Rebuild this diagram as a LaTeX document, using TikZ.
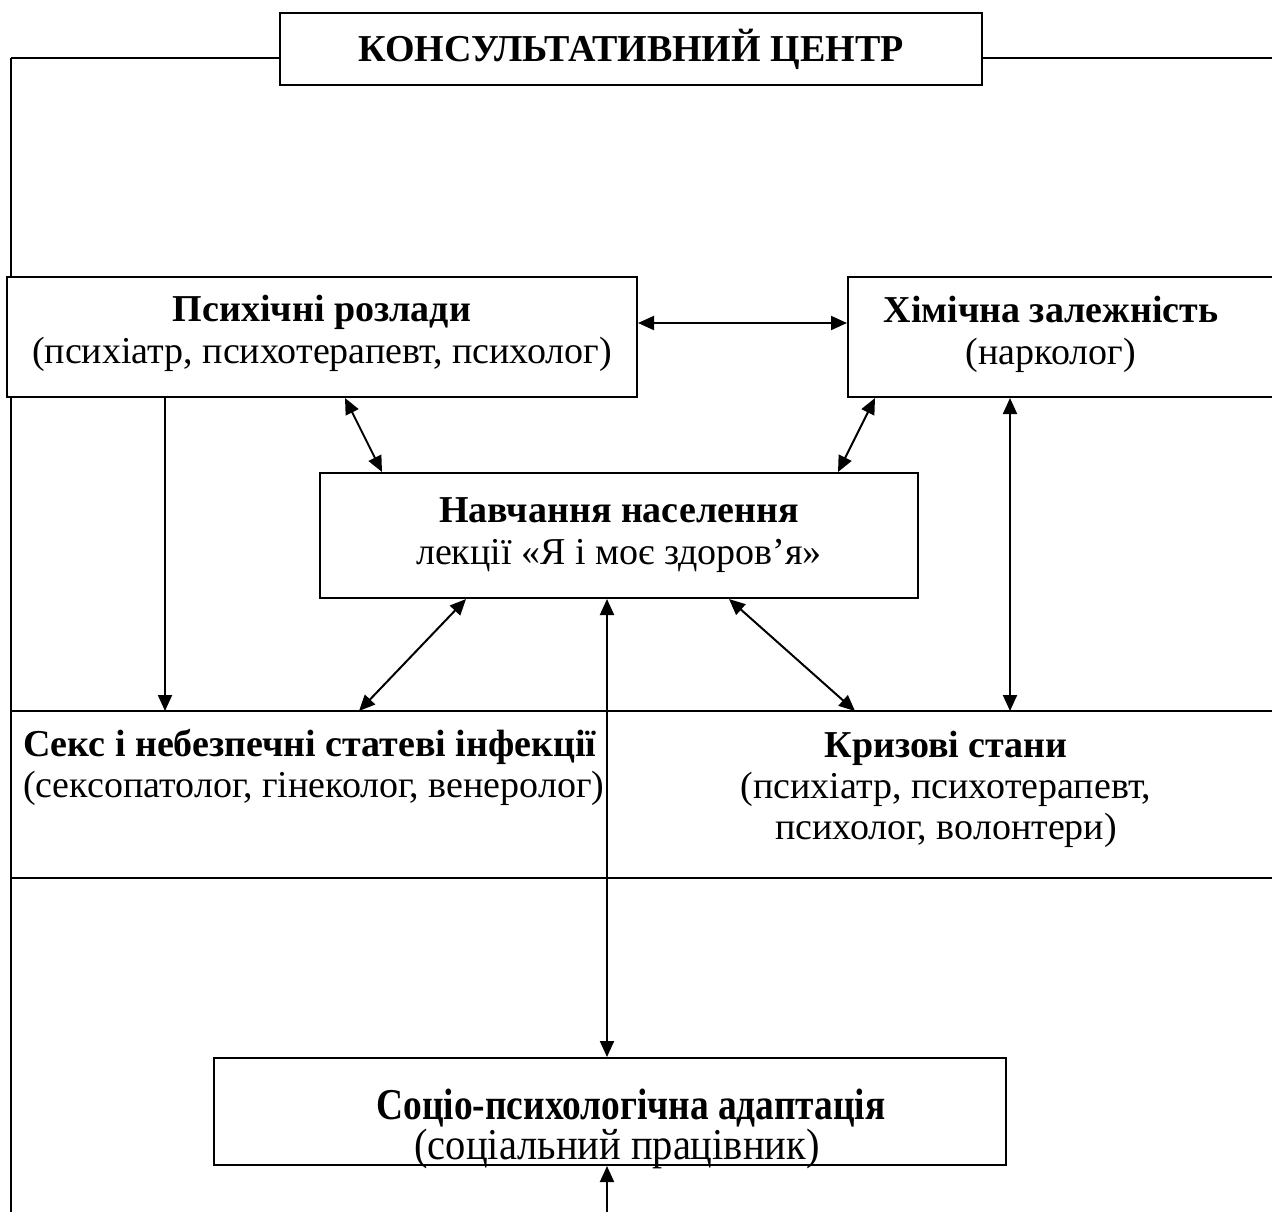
\documentclass[tikz,border=0pt]{standalone}
\usepackage{fontspec}
\setmainfont{Liberation Serif}
\newfontfamily\condfont{Liberation Serif}[FakeStretch=0.85]
\newfontfamily\semicondfont{Liberation Serif}[FakeStretch=0.92]
\usetikzlibrary{arrows.meta}
\begin{document}
\begin{tikzpicture}[x=0.5pt,y=-0.5pt, line width=1pt,
  box/.style={draw, fill=white, line width=1pt, inner sep=0pt, align=center,
              font=\fontsize{19}{21}\selectfont},
  txt/.style={inner sep=0pt, font=\fontsize{19}{20.5}\selectfont},
  arr/.style={-{Triangle[length=8pt,width=7pt]}},
  darr/.style={{Triangle[length=8pt,width=7pt]}-{Triangle[length=8pt,width=7pt]}}]
\useasboundingbox (0,0) rectangle (1272,1212);
\fill[white] (0,0) rectangle (1272,1212);

% frame lines
\coordinate (tl) at (11,58);
\coordinate (bl) at (11,1212);
\coordinate (tr) at (1290,58);
\coordinate (bandL1) at (11,711);
\coordinate (bandR1) at (1290,711);
\coordinate (bandL2) at (11,878);
\coordinate (bandR2) at (1290,878);
\draw (tl) -- (bl);
\draw (bandL1) -- (bandR1);
\draw (bandL2) -- (bandR2);

% title
\node[box, minimum width=351pt, minimum height=36pt, font=\fontsize{19}{22}\selectfont\bfseries]
  (title) at (631,49) {КОНСУЛЬТАТИВНИЙ ЦЕНТР};
\draw (title.west |- tl) -- (tl);
\draw (title.east |- tr) -- (tr);

% boxes
\node[box, minimum width=315pt, minimum height=60pt] (psych) at (322,337) {};
\node[txt, align=center, font=\fontsize{19}{21}\selectfont] (psychtxt) at (322,333)
  {\textbf{Психічні розлади}\\(психіатр, психотерапевт, психолог)};
\node[box, minimum width=221pt, minimum height=60pt] (chem) at (1069,337) {};
\node[txt, align=center, font=\fontsize{19}{21}\selectfont] (chemtxt) at (1051,334)
  {\textbf{Хімічна залежність}\\(нарколог)};
\node[box, minimum width=299pt, minimum height=62.5pt] (edu) at (619,535.5)
  {\textbf{Навчання населення}\\лекції «Я і моє здоров’я»};
\node[txt, align=left, anchor=west] (sex) at (22,767)
  {\textbf{Секс і небезпечні статеві інфекції}\\(сексопатолог, гінеколог, венеролог)};
\node[txt, align=center] (crisis) at (946,789)
  {\textbf{Кризові стани}\\(психіатр, психотерапевт,\\психолог, волонтери)};
\node[box, minimum width=396pt, minimum height=53.5pt] (soc) at (610,1111.5) {};
\node[txt, align=center, font=\fontsize{22}{17}\selectfont] (soctxt) at (624,1129)
  {\hspace*{7pt}{\condfont\bfseries Соціо-психологічна адаптація}\\{\semicondfont (соціальний працівник)}\hspace*{7pt}};

% band anchor coordinates
\coordinate (sexA) at (165,711);
\coordinate (sexB) at (359,711);
\coordinate (crA) at (855,711);
\coordinate (crB) at (1010,711);
\coordinate (bottom) at (607,1212);

% arrows
\draw[darr] (psych.east |- 0,323) -- (chem.west |- 0,323);
\draw[darr] (psych.south -| 345,0) -- (edu.north -| 382,0);
\draw[darr] (chem.south -| 875,0) -- (edu.north -| 838,0);
\draw[arr] (psych.south -| sexA) -- (sexA);
\draw[darr] (chem.south -| crB) -- (crB);
\draw[darr] (edu.south -| 466,0) -- (sexB);
\draw[darr] (edu.south -| 729,0) -- (crA);
\draw[darr] (edu.south -| bottom) -- (soc.north -| bottom);
\draw[arr] (bottom) -- (soc.south -| bottom);
\end{tikzpicture}
\end{document}
